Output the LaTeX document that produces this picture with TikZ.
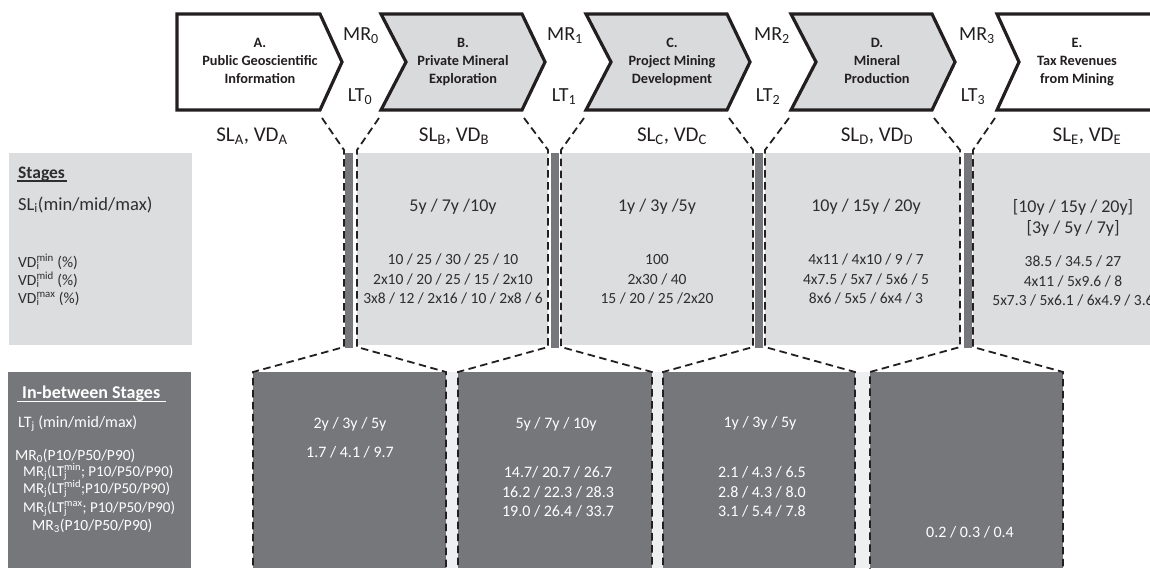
\documentclass[tikz,border=0pt]{standalone}
\usepackage{fontspec}
\setmainfont{Carlito}
\newcommand\ssup[2]{\rlap{\textsubscript{#1}}\textsuperscript{#2}}
\definecolor{lightp}{HTML}{DCDDDF}
\definecolor{chevf}{HTML}{D9DADC}
\definecolor{darkp}{HTML}{76777B}
\definecolor{stripc}{HTML}{EEEFF1}
\definecolor{ink}{HTML}{231F20}
\definecolor{txt}{HTML}{2E2E30}
\tikzset{
  chev/.style={line width=3.2pt, line join=miter, draw=ink},
  dashc/.style={draw=ink, line width=1.8pt, dash pattern=on 7.5pt off 4.5pt},
  ctitle/.style={font=\bfseries\fontsize{14.3}{18}\selectfont, align=center, anchor=north, inner sep=0pt, text=ink},
  mrl/.style={font=\fontsize{20}{24}\selectfont, anchor=base, inner sep=0pt, text=ink},
  sll/.style={font=\fontsize{21}{24}\selectfont, anchor=base, inner sep=0pt, text=ink},
  slv/.style={font=\fontsize{18}{20}\selectfont, anchor=base, inner sep=0pt, text=txt},
  vdv/.style={font=\fontsize{15.5}{19}\selectfont, anchor=base, inner sep=0pt, text=txt},
  wv/.style={font=\fontsize{16}{19}\selectfont, anchor=base, inner sep=0pt, text=white},
  lbl/.style={font=\fontsize{16}{19}\selectfont, anchor=base west, inner sep=0pt, text=txt},
  wlbl/.style={font=\fontsize{15}{17}\selectfont, anchor=base west, inner sep=0pt, text=white},
  ulin/.style={line width=1.6pt}
}
\begin{document}
\begin{tikzpicture}[x=1pt,y=-1pt]
\useasboundingbox (0,0) rectangle (1150,568);
\clip (0,0) rectangle (1150,568);

% ---------- chevrons ----------
\draw[chev, fill=white] (177,14) -- (320,14) -- (342,62) -- (320,110) -- (177,110) -- cycle;
\draw[chev, fill=chevf] (381,14) -- (522,14) -- (545,62) -- (522,110) -- (381,110) -- (406,62) -- cycle;
\draw[chev, fill=chevf] (586,14) -- (727,14) -- (750,62) -- (727,110) -- (586,110) -- (611,62) -- cycle;
\draw[chev, fill=chevf] (791,14) -- (932,14) -- (955,62) -- (932,110) -- (791,110) -- (816,62) -- cycle;
\draw[chev, fill=white] (997,14) -- (1170,14) -- (1170,110) -- (997,110) -- (1019,62) -- cycle;

\node[ctitle] (tA) at (260,38) {A.\\Public Geoscientific\\Information};
\node[ctitle] (tB) at (463,38) {B.\\Private Mineral\\Exploration};
\node[ctitle] (tC) at (672,38) {C.\\Project Mining\\Development};
\node[ctitle] (tD) at (877,38) {D.\\Mineral\\Production};
\node[ctitle] (tE) at (1077,38) {E.\\Tax Revenues\\from Mining};

% MR / LT labels
\node[mrl] (mr0) at (361,40) {MR\textsubscript{0}};
\node[mrl] (lt0) at (360,101) {LT\textsubscript{0}};
\node[mrl] (mr1) at (565,40) {MR\textsubscript{1}};
\node[mrl] (lt1) at (564,101) {LT\textsubscript{1}};
\node[mrl] (mr2) at (772,40) {MR\textsubscript{2}};
\node[mrl] (lt2) at (768,101) {LT\textsubscript{2}};
\node[mrl] (mr3) at (977,40) {MR\textsubscript{3}};
\node[mrl] (lt3) at (973,101) {LT\textsubscript{3}};

% SL / VD labels
\node[sll] (slA) at (252,141) {SL\textsubscript{A}, VD\textsubscript{A}};
\node[sll] (slB) at (454,141) {SL\textsubscript{B}, VD\textsubscript{B}};
\node[sll] (slC) at (672,141) {SL\textsubscript{C}, VD\textsubscript{C}};
\node[sll] (slD) at (877,141) {SL\textsubscript{D}, VD\textsubscript{D}};
\node[sll] (slE) at (1087,141) {SL\textsubscript{E}, VD\textsubscript{E}};

% ---------- stage panels ----------
\fill[lightp] (9,153) rectangle (192,345);
\fill[lightp] (357,153) rectangle (548,345);
\fill[lightp] (561,153) rectangle (753,345);
\fill[lightp] (765,153) rectangle (960,345);
\fill[lightp] (973,153) rectangle (1175,345);
% in-between bars
\fill[darkp] (345,153) rectangle (353,348);
\fill[darkp] (551,153) rectangle (559,348);
\fill[darkp] (755,153) rectangle (763,348);
\fill[darkp] (964,153) rectangle (972,348);

% ---------- in-between panels ----------
\fill[darkp] (8,372) rectangle (191,568);
\fill[stripc] (446,372) rectangle (458,568);
\fill[stripc] (652,372) rectangle (663,568);
\fill[stripc] (855,372) rectangle (870,568);
\fill[darkp] (253,372) rectangle (446,568);
\fill[darkp] (458,372) rectangle (652,568);
\fill[darkp] (663,372) rectangle (855,568);
\fill[darkp] (870,372) rectangle (1063,568);

% ---------- connector coordinates ----------
\coordinate (Abr) at (322,118);
\coordinate (Bbl) at (379,118);
\coordinate (Bbr) at (524,118);
\coordinate (Cbl) at (584,118);
\coordinate (Cbr) at (729,118);
\coordinate (Dbl) at (789,118);
\coordinate (Dbr) at (934,118);
\coordinate (Ebl) at (995,118);
\foreach \n/\x in {a/344,b/357,c/548,d/561,e/753,f/765,g/960,h/973}{
  \coordinate (t\n) at (\x,150);
  \coordinate (m\n) at (\x,347);
}
\foreach \n/\x in {p/253,q/446,r/458,s/652,t/663,u/855,v/870,w/1063}{
  \coordinate (k\n) at (\x,372);
  \coordinate (z\n) at (\x,570);
}

% ---------- dashed connectors ----------
\draw[dashc] (Abr) -- (ta) -- (ma) -- (kp) -- (zp);
\draw[dashc] (Bbl) -- (tb) -- (mb) -- (kq) -- (zq);
\draw[dashc] (Bbr) -- (tc) -- (mc) -- (kr) -- (zr);
\draw[dashc] (Cbl) -- (td) -- (md) -- (ks) -- (zs);
\draw[dashc] (Cbr) -- (te) -- (me) -- (kt) -- (zt);
\draw[dashc] (Dbl) -- (tf) -- (mf) -- (ku) -- (zu);
\draw[dashc] (Dbr) -- (tg) -- (mg) -- (kv) -- (zv);
\draw[dashc] (Ebl) -- (th) -- (mh) -- (kw) -- (zw);

% ---------- stage panel texts ----------
\node[lbl, font=\bfseries\fontsize{17.5}{19}\selectfont] (stg) at (18,178) {Stages};
\draw[ulin, txt] ([xshift=-1pt,yshift=-3pt]stg.base west) -- ([xshift=2pt,yshift=-3pt]stg.base east);
\node[lbl, font=\fontsize{18.5}{20}\selectfont] (sli) at (18,210) {SL\textsubscript{i}(min/mid/max)};
\node[lbl, font=\fontsize{15.5}{19}\selectfont] (vdmin) at (18,267) {VD\ssup{i}{min} (\%)};
\node[lbl, font=\fontsize{15.5}{19}\selectfont] (vdmid) at (18,285) {VD\ssup{i}{mid} (\%)};
\node[lbl, font=\fontsize{15.5}{19}\selectfont] (vdmax) at (18,303) {VD\ssup{i}{max} (\%)};

\node[slv] (sB) at (453,211) {5y / 7y /10y};
\node[vdv] (vB1) at (453,264) {10 / 25 / 30 / 25 / 10};
\node[vdv] (vB2) at (453,284) {2x10 / 20 / 25 / 15 / 2x10};
\node[vdv] (vB3) at (453,303) {3x8 / 12 / 2x16 / 10 / 2x8 / 6};

\node[slv] (sC) at (657,211) {1y / 3y /5y};
\node[vdv] (vC1) at (657,264) {100};
\node[vdv] (vC2) at (657,284) {2x30 / 40};
\node[vdv] (vC3) at (657,303) {15 / 20 / 25 /2x20};

\node[slv] (sD) at (866,211) {10y / 15y / 20y};
\node[vdv] (vD1) at (866,264) {4x11 / 4x10 / 9 / 7};
\node[vdv] (vD2) at (866,284) {4x7.5 / 5x7 / 5x6 / 5};
\node[vdv] (vD3) at (866,303) {8x6 / 5x5 / 6x4 / 3};

\node[slv] (sE1) at (1073,212) {[10y / 15y / 20y]};
\node[slv] (sE2) at (1073,233) {[3y / 5y / 7y]};
\node[vdv] (vE1) at (1073,266) {38.5 / 34.5 / 27};
\node[vdv] (vE2) at (1073,286) {4x11 / 5x9.6 / 8};
\node[vdv] (vE3) at (1073,305) {5x7.3 / 5x6.1 / 6x4.9 / 3.6};

% ---------- in-between panel texts ----------
\node[wlbl, font=\bfseries\fontsize{18}{19}\selectfont] (ibs) at (22,398) {In-between Stages};
\draw[ulin, white] ([xshift=-5pt,yshift=-3.5pt]ibs.base west) -- ([xshift=6pt,yshift=-3.5pt]ibs.base east);
\node[wlbl, font=\fontsize{16}{17}\selectfont] (ltj) at (18,427) {LT\textsubscript{j} (min/mid/max)};
\node[wlbl, font=\fontsize{15.5}{17}\selectfont] (mr0l) at (15,460) {MR\textsubscript{0}(P10/P50/P90)};
\node[wlbl] (mrjmin) at (23,476) {MR\textsubscript{j}(LT\ssup{j}{min}; P10/P50/P90)};
\node[wlbl] (mrjmid) at (23,493) {MR\textsubscript{j}(LT\ssup{j}{mid};P10/P50/P90)};
\node[wlbl] (mrjmax) at (23,512) {MR\textsubscript{j}(LT\ssup{j}{max}; P10/P50/P90)};
\node[wlbl, font=\fontsize{15.5}{17}\selectfont] (mr3l) at (32,530) {MR\textsubscript{3}(P10/P50/P90)};

\node[wv] (w1a) at (350,428) {2y / 3y / 5y};
\node[wv] (w1b) at (350,457) {1.7 / 4.1 / 9.7};

\node[wv] (w2a) at (556,428) {5y / 7y / 10y};
\node[wv] (w2b) at (558,477) {14.7/ 20.7 / 26.7};
\node[wv] (w2c) at (558,497) {16.2 / 22.3 / 28.3};
\node[wv] (w2d) at (558,516) {19.0 / 26.4 / 33.7};

\node[wv] (w3a) at (760,427) {1y / 3y / 5y};
\node[wv] (w3b) at (762,477) {2.1 / 4.3 / 6.5};
\node[wv] (w3c) at (762,497) {2.8 / 4.3 / 8.0};
\node[wv] (w3d) at (762,516) {3.1 / 5.4 / 7.8};

\node[wv] (w4a) at (970,537) {0.2 / 0.3 / 0.4};
\end{tikzpicture}
\end{document}
